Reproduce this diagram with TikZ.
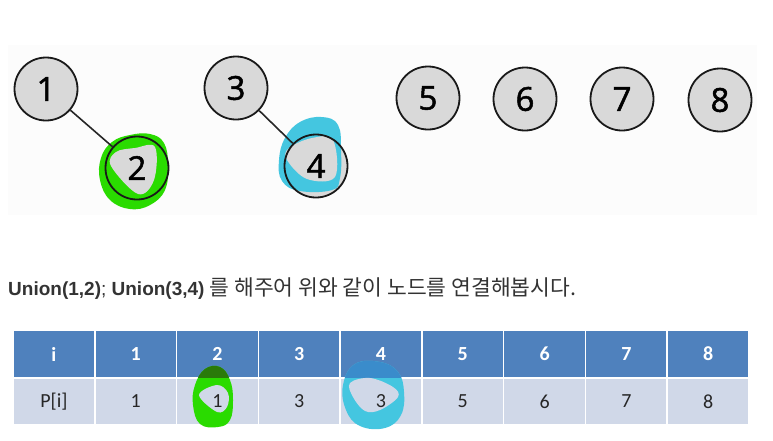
\documentclass[tikz,border=0pt]{standalone}
\usepackage{fontspec}
\setmainfont{Liberation Sans}
\newfontfamily\cjkfont{Noto Sans CJK KR}
\newfontfamily\circfont[FakeBold=1.5]{Open Sans}
\newfontfamily\tabfont{Carlito}
\definecolor{circgray}{HTML}{D9D9D9}
\definecolor{panelbg}{HTML}{FCFCFC}
\definecolor{hdr}{HTML}{4F81BD}
\definecolor{rowc}{HTML}{D0D8E8}
\definecolor{mkgreen}{HTML}{2ADB00}
\definecolor{mkgreendk}{HTML}{2A7A0A}
\definecolor{mkcyan}{HTML}{44C6E0}
\definecolor{mkcyandk}{HTML}{3A8CCB}
\definecolor{txt}{HTML}{333333}
\tikzset{
  circ/.style={circle, draw=black!90, line width=1.8pt, minimum size=63pt, inner sep=0pt, font=\circfont\fontsize{33}{33}\selectfont},
  edge/.style={line width=1.6pt, black!85},
  hcell/.style={rectangle, fill=hdr, draw=white, line width=1.5pt, minimum width=81.8pt, minimum height=47pt, inner sep=0pt, text=white, font=\tabfont\bfseries\fontsize{20}{20}\selectfont},
  bcell/.style={rectangle, fill=rowc, draw=white, line width=1.5pt, minimum width=81.8pt, minimum height=47pt, inner sep=0pt},
  btext/.style={text=black!85, font=\tabfont\fontsize{20}{20}\selectfont, inner sep=0pt}
}
\begin{document}
\begin{tikzpicture}[x=1pt,y=-1pt]
\useasboundingbox (0,0) rectangle (773,440);
\fill[panelbg] (8,45) rectangle (757,215);

% ---- circles with markers
\coordinate (c2) at (137,168);
\coordinate (c4) at (316,166);
\fill[circgray] (c2) circle[radius=31.5];
\fill[circgray] (c4) circle[radius=31.5];
% green marker around node 2
\fill[mkgreen] plot[smooth cycle, tension=0.7] coordinates {(112,142) (130,135) (150,134) (164,143) (168,165) (165,190) (150,205) (130,209) (110,200) (100,180) (101,158)};
\fill[circgray] plot[smooth cycle, tension=0.6] coordinates {(116,152) (135,148) (155,147) (154,180) (138,194) (111,166)};
% cyan marker around node 4
\fill[mkcyan] plot[smooth cycle, tension=0.7] coordinates {(300,122) (322,117) (338,125) (341,150) (340,178) (332,190) (300,191) (282,181) (279,160) (285,138)};
\fill[circgray] plot[smooth cycle, tension=0.6] coordinates {(289,148) (312,138) (333,140) (335,177) (307,179) (287,160)};

\node[circ, fill=circgray] (n1) at (46,89) {1};
\node[circ, fill=none] (n2) at (c2) {2};
\node[circ, fill=circgray] (n3) at (236,88) {3};
\node[circ, fill=none] (n4) at (c4) {4};
\node[circ, fill=circgray] (n5) at (428,98) {5};
\node[circ, fill=circgray] (n6) at (525,99) {6};
\node[circ, fill=circgray] (n7) at (622,99) {7};
\node[circ, fill=circgray] (n8) at (720,100) {8};
\draw[edge] (n1) -- (n2);
\draw[edge] (n3) -- (n4);

% ---- sentence
\node[anchor=base west, inner sep=0pt, text=txt, font=\fontsize{19}{19}\selectfont] (sent) at (8,295)
  {\textbf{Union(1,2)}; \textbf{Union(3,4)} {\cjkfont\fontsize{21.5}{21.5}\selectfont 를 해주어 위와 같이 노드를 연결해봅시다.}};

% ---- table
\foreach \t [count=\k from 0] in {i,1,2,3,4,5,6,7,8} {
  \node[hcell] (h\k) at ({13+81.78*(\k+0.5)},354) {\t};
}
\foreach \k in {0,...,8} {
  \node[bcell] (b\k) at ({13+81.78*(\k+0.5)},401.5) {};
}
% markers in table
\fill[mkgreen] plot[smooth cycle, tension=0.7] coordinates {(205,369) (220,367) (230,380) (233,400) (230,420) (218,427) (200,424) (193,405) (195,385)};
\begin{scope}
  \clip (13,330) rectangle (749,377);
  \fill[mkgreendk] plot[smooth cycle, tension=0.7] coordinates {(205,369) (220,367) (230,380) (233,400) (230,420) (218,427) (200,424) (193,405) (195,385)};
\end{scope}
\fill[rowc] plot[smooth cycle, tension=0.6] coordinates {(199,395) (217,385) (228,393) (227,407) (217,412)};
\fill[mkcyan] plot[smooth cycle, tension=0.7] coordinates {(355,364) (380,362) (398,372) (404,392) (401,415) (385,428) (360,426) (346,410) (343,385)};
\begin{scope}
  \clip (13,330) rectangle (749,377);
  \fill[mkcyandk] plot[smooth cycle, tension=0.7] coordinates {(355,364) (380,362) (398,372) (404,392) (401,415) (385,428) (360,426) (346,410) (343,385)};
\end{scope}
\fill[rowc] plot[smooth cycle, tension=0.6] coordinates {(350,383) (370,378) (393,387) (398,397) (380,410) (365,411) (353,397)};
\foreach \t [count=\k from 0] in {P[i],1,1,3,3,5,6,7,8} {
  \node[btext] (bt\k) at (b\k) {\t};
}
\end{tikzpicture}
\end{document}
